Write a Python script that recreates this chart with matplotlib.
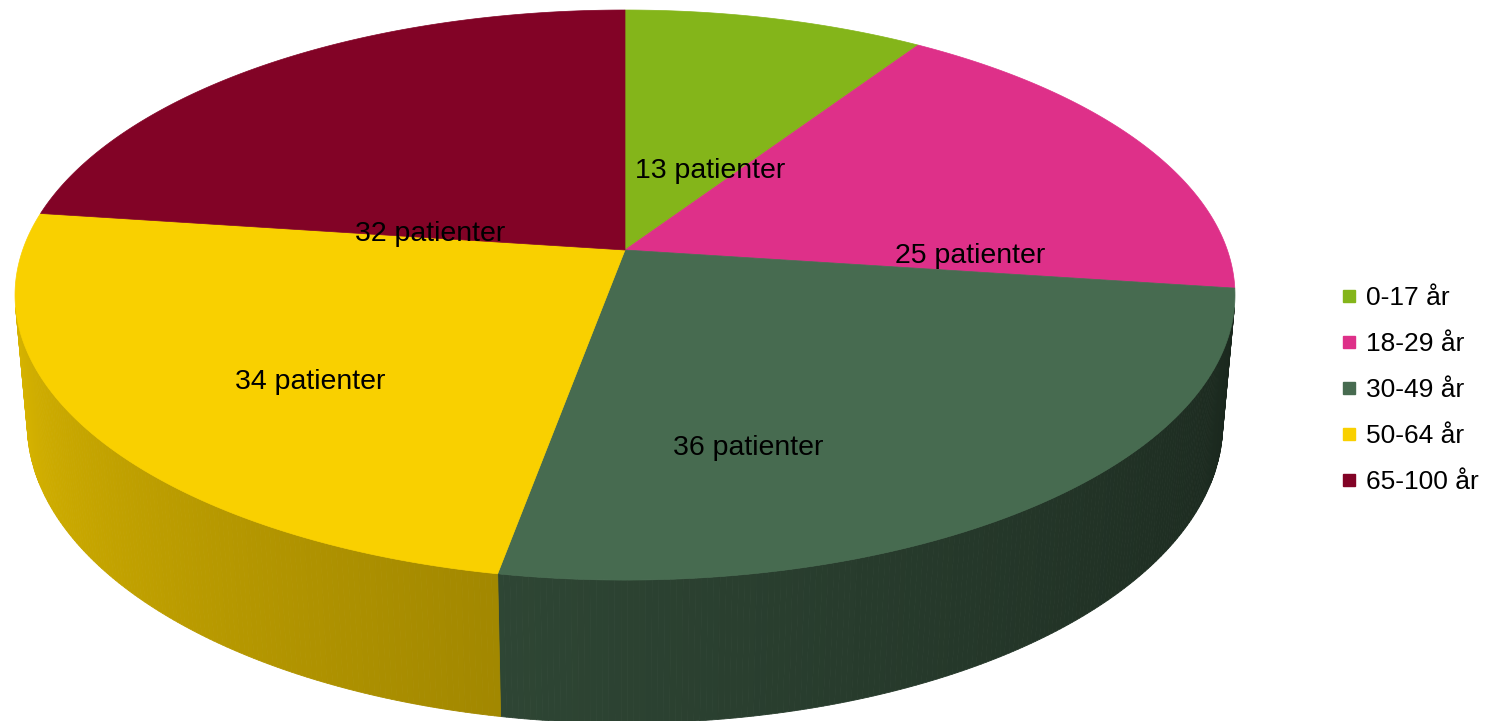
import numpy as np
import matplotlib.pyplot as plt
from matplotlib.lines import Line2D

plt.rcParams['font.family'] = ['Liberation Sans', 'DejaVu Sans']

groups = ['0-17 år', '18-29 år', '30-49 år', '50-64 år', '65-100 år']
patients = [13, 25, 36, 34, 32]
colors = ['#84B51A', '#DE3089', '#476B50', '#F9D000', '#820326']

# camera fitted by eye to the reference (pixel space)
CX, CY = 625, 250
F = 3382
D = 5.615
SIN_P, COS_P = 0.4614, 0.8872
H = 0.243


def project(t, r=1.0, z=0.0):
    x = r * np.cos(t)
    y = r * np.sin(t)
    depth = D + y * COS_P - z * SIN_P
    xs = x / depth
    ys = (y * SIN_P + z * COS_P) / depth
    return CX + F * xs, CY - F * ys


def shade(t_deg):
    return np.clip(0.65 - 0.0032 * (t_deg + 100), 0.3, 1.0)


def darker(c, f):
    rgb = np.array(plt.matplotlib.colors.to_rgb(c))
    return tuple(rgb * f)


# label nudges in pixels from the projected mid angle (layout only)
label_nudge = [(-3, 56), (54, 67), (-86, 65), (-32, 37), (10, 92)]

fig = plt.figure(figsize=(14.88, 7.21), dpi=100)
ax = fig.add_axes([0, 0, 1, 1])
ax.set_xlim(0, 1488)
ax.set_ylim(721, 0)
ax.axis('off')

total = sum(patients)
bounds = 90 - np.cumsum([0] + patients) / total * 360
beta = np.degrees(np.arcsin(1 / (D * COS_P)))
vis_lo, vis_hi = -180 + beta, -beta

# side walls
for i in range(len(patients)):
    t1, t0 = bounds[i], bounds[i + 1]
    a, b = max(t0, vis_lo), min(t1, vis_hi)
    if a >= b:
        continue
    ts = np.linspace(a, b, int((b - a) * 2) + 2)
    for ta, tb in zip(ts[:-1], ts[1:]):
        ra, rb = np.radians(ta), np.radians(tb)
        xa, ya = project(ra)
        xb, yb = project(rb)
        xc, yc = project(rb, z=-H)
        xd, yd = project(ra, z=-H)
        col = darker(colors[i], shade((ta + tb) / 2))
        ax.fill([xa, xb, xc, xd], [ya, yb, yc, yd], color=col, lw=0.6, ec=col)

# top face
for i in range(len(patients)):
    t1, t0 = bounds[i], bounds[i + 1]
    ts = np.radians(np.linspace(t1, t0, 200))
    xs, ys = project(ts)
    ax.fill(np.r_[CX, xs], np.r_[CY, ys], color=colors[i], lw=0.5, ec=colors[i])

# labels
for i, n in enumerate(patients):
    tm = np.radians((bounds[i] + bounds[i + 1]) / 2)
    lx, ly = project(tm, r=0.55)
    dx, dy = label_nudge[i]
    ax.text(lx + dx, ly + dy, f'{n} patienter', fontsize=20.5,
            ha='center', va='center', color='black')

handles = [Line2D([], [], marker='s', ls='', color=c, markersize=8.5) for c in colors]
fig.legend(handles, groups, loc='center left',
           bbox_to_anchor=(1340 / 1488, 1 - 390 / 721), frameon=False,
           fontsize=19, labelspacing=0.83, handlelength=0.7, handletextpad=0.3,
           borderpad=0, borderaxespad=0)

fig.savefig('out.png', dpi=100)
